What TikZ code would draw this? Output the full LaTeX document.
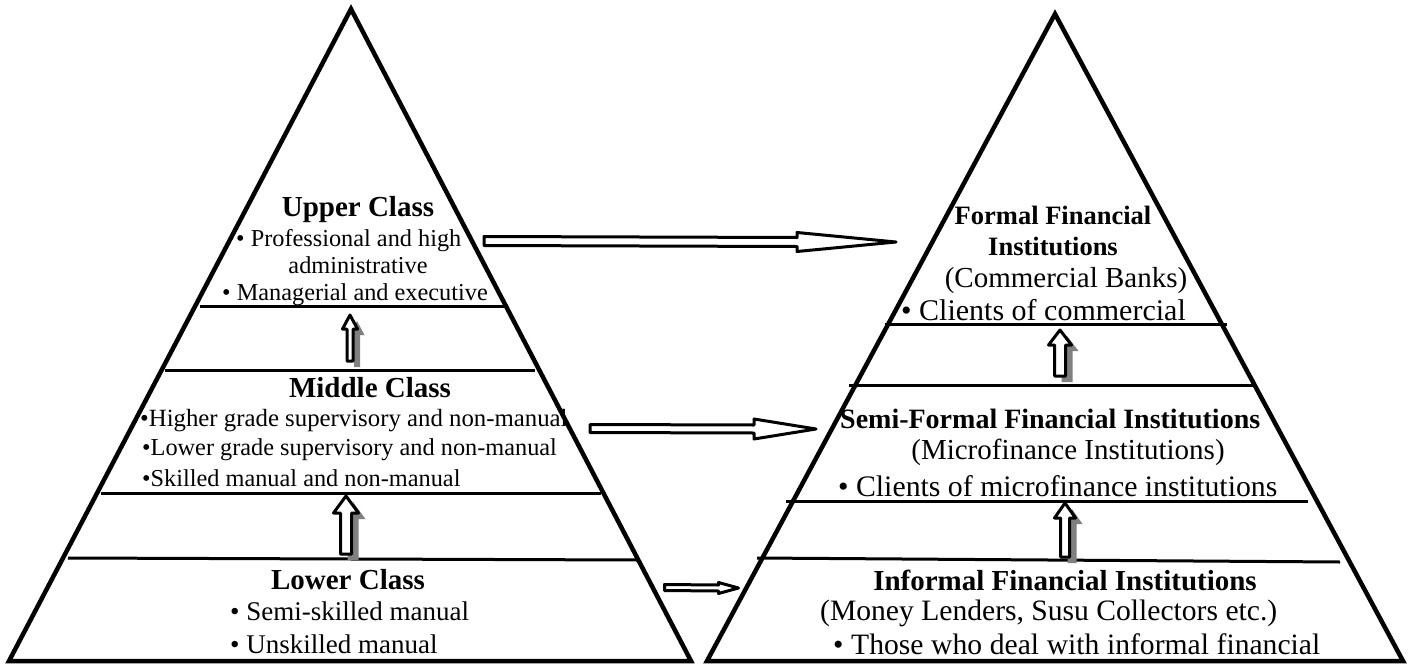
\documentclass[tikz,border=0pt]{standalone}
\usepackage{fontspec}
\setmainfont{Liberation Serif}
\usetikzlibrary{calc}
\newcommand\hblockarrow[5]{% start, tip, shaft half, head half, head length
  \draw[blockarr] ($(#1)+(0,-#3)$) -- ($(#2)+(-#5,-#3)$) -- ($(#2)+(-#5,-#4)$) -- (#2)
    -- ($(#2)+(-#5,#4)$) -- ($(#2)+(-#5,#3)$) -- ($(#1)+(0,#3)$) -- cycle;}
\newcommand\vblockpath[5]{($(#2)+(-#3,0)$) -- ($(#1)+(-#3,#5)$) -- ($(#1)+(-#4,#5)$) -- (#1)
    -- ($(#1)+(#4,#5)$) -- ($(#1)+(#3,#5)$) -- ($(#2)+(#3,0)$) -- cycle}
\newcommand\vblockarrow[5]{% tip, base, shaft half, head half, head length
  \begin{scope}[transform canvas={xshift=7pt,yshift=-6pt}]
    \fill[arrshadow] \vblockpath{#1}{#2}{#3}{#4}{#5};
  \end{scope}
  \draw[blockarr] \vblockpath{#1}{#2}{#3}{#4}{#5};}
\begin{document}
\begin{tikzpicture}[x=1pt,y=-1pt,
  pyr/.style={line width=4.5pt,line join=miter},
  tier/.style={line width=3pt},
  blockarr/.style={draw=black,fill=white,line width=3pt,line join=round},
  arrshadow/.style={fill=black!50},
  lbody/.style={inner sep=0pt,font=\fontsize{24.3}{28}\selectfont},
  lbodyb/.style={inner sep=0pt,font=\fontsize{27}{32}\selectfont},
  lhead/.style={inner sep=0pt,font=\fontsize{29}{34}\selectfont\bfseries},
  rbody/.style={inner sep=0pt,font=\fontsize{29.6}{34}\selectfont},
  rhead/.style={inner sep=0pt,font=\fontsize{28.5}{34}\selectfont\bfseries}]
\useasboundingbox (0,0) rectangle (1409,664);
% ---------- left pyramid ----------
\coordinate (LA) at (351,9);
\coordinate (LB) at (9,661);
\coordinate (LC) at (691,661);
\draw[pyr] (LB) -- (LA) -- (LC) -- cycle;
\draw[tier] (200,306) -- (505,306);
\draw[tier] (165,370) -- (535,370);
\draw[tier] (101,493) -- (601,493);
\draw[tier] (68,558) -- (638,560);
% ---------- right pyramid ----------
\coordinate (RA) at (1055,14);
\coordinate (RB) at (707,661);
\coordinate (RC) at (1403,661);
\draw[pyr] (RB) -- (RA) -- (RC) -- cycle;
\draw[tier] (885,324) -- (1227,324);
\draw[tier] (849,385) -- (1254,385);
\draw[tier] (786,501) -- (1308,501);
\draw[tier] (757,558) -- (1340,562);
% ---------- left texts ----------
\node[lhead,anchor=base] (uc) at (358,216) {Upper Class};
\node[lbody,anchor=base west] (uc1) at (236,246) {• Professional and high};
\node[lbody,anchor=base] (uc2) at (358,273) {administrative};
\node[lbody,anchor=base west] (uc3) at (222,300) {• Managerial and executive};
\node[lhead,anchor=base] (mc) at (370,397) {Middle Class};
\node[lbody,anchor=base west,font=\fontsize{24.8}{28}\selectfont] (mc1) at (140,426) {•Higher grade supervisory and non-manual};
\node[lbody,anchor=base west] (mc2) at (142,455) {•Lower grade supervisory and non-manual};
\node[lbody,anchor=base west] (mc3) at (142,486) {•Skilled manual and non-manual};
\node[lhead,anchor=base] (lc) at (348,589) {Lower Class};
\node[lbodyb,anchor=base west] (lc1) at (230,620) {• Semi-skilled manual};
\node[lbodyb,anchor=base west] (lc2) at (230,653) {• Unskilled manual};
% ---------- right texts ----------
\node[rhead,anchor=base,font=\fontsize{26.5}{32}\selectfont\bfseries] (ff1) at (1053,224) {Formal Financial};
\node[rhead,anchor=base,font=\fontsize{26.5}{32}\selectfont\bfseries] (ff2) at (1053,255) {Institutions};
\node[rbody,anchor=base,font=\fontsize{29}{34}\selectfont] (ff3) at (1066,287) {(Commercial Banks)};
\node[rbody,anchor=base west,font=\fontsize{30}{34}\selectfont] (ff4) at (901,320) {• Clients of commercial};
\node[rhead,anchor=base west,font=\fontsize{28}{34}\selectfont\bfseries] (sf1) at (840,428) {Semi-Formal Financial Institutions};
\node[rbody,anchor=base,font=\fontsize{29}{34}\selectfont] (sf2) at (1068,459) {(Microfinance Institutions)};
\node[rbody,anchor=base west,font=\fontsize{29.8}{34}\selectfont] (sf3) at (838,496) {• Clients of microfinance institutions};
\node[rhead,anchor=base,font=\fontsize{29}{34}\selectfont\bfseries] (if1) at (1065,590) {Informal Financial Institutions};
\node[rbody,anchor=base west] (if2) at (820,620) {(Money Lenders, Susu Collectors etc.)};
\node[rbody,anchor=base west] (if3) at (833,654) {\makebox[487pt][s]{• Those who deal with informal financial}};
% ---------- horizontal block arrows ----------
\coordinate (h1s) at (484,241);
\coordinate (h1t) at (896,242);
\coordinate (h2s) at (590,428.5);
\coordinate (h2t) at (816,429);
\coordinate (h3s) at (664.5,587.5);
\coordinate (h3t) at (738.5,588);
\hblockarrow{h1s}{h1t}{4.5}{9.5}{99}
\hblockarrow{h2s}{h2t}{4}{10}{62}
\hblockarrow{h3s}{h3t}{3}{5.5}{20}
% ---------- vertical block arrows ----------
\coordinate (v1t) at (350,315);
\coordinate (v1b) at (350,361);
\coordinate (v2t) at (346,496);
\coordinate (v2b) at (346,554);
\coordinate (v3t) at (1060,330);
\coordinate (v3b) at (1060,376);
\coordinate (v4t) at (1065,503);
\coordinate (v4b) at (1065,557);
\vblockarrow{v1t}{v1b}{3}{7.5}{14}
\vblockarrow{v2t}{v2b}{5.5}{12.5}{17}
\vblockarrow{v3t}{v3b}{5.5}{11.5}{15}
\vblockarrow{v4t}{v4b}{4.5}{10.5}{15}
\end{tikzpicture}
\end{document}
